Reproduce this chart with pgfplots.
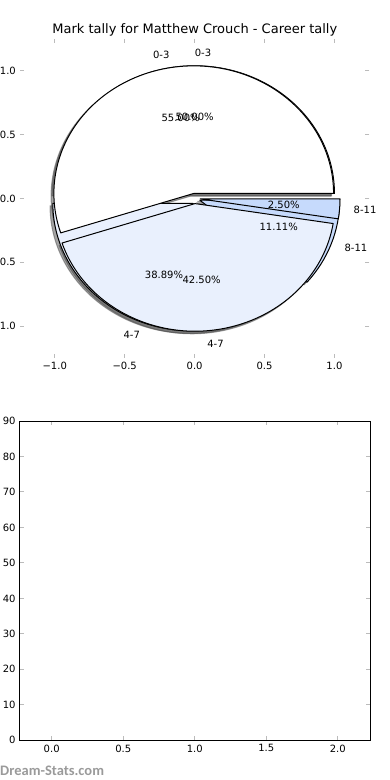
\documentclass[border=0pt]{standalone}
\usepackage{pgfplots}
\pgfplotsset{compat=1.18}
\usepackage{fontspec}
\setmainfont{DejaVu Sans}
\newfontfamily\wmfont{Carlito}
\definecolor{cA}{HTML}{FFFFFF}
\definecolor{cB}{HTML}{E9F0FD}
\definecolor{cC}{HTML}{C6DAFC}
\definecolor{tickgray}{HTML}{BBBBBB}
\definecolor{wmgray}{HTML}{9A9A9A}

% Data: mark tally counts per band
% Pie A: 0-3, 4-7, 8-11
\newcommand\Aone{9}\newcommand\Atwo{7}\newcommand\Athree{2}
% Pie B: 0-3, 4-7, 8-11
\newcommand\Bone{22}\newcommand\Btwo{17}\newcommand\Bthree{1}

\tikzset{
  shad/.style={fill=black!70, draw=black!70, fill opacity=0.5, draw opacity=0.5, line width=1pt},
  wdg/.style={fill=#1, draw=black, line width=1pt, line join=round},
  lbl/.style={font=\fontsize{10}{12}\selectfont, inner sep=0pt},
}

% wedge: start angle, end angle, style, shadow offset
\newcommand\pw[4]{%
  \pgfmathsetmacro\mA{(#1+#2)/2}%
  \pgfmathsetmacro\cx{0.04*cos(\mA)-#4}%
  \pgfmathsetmacro\cy{0.04*sin(\mA)-#4}%
  \pgfmathsetmacro\sx{\cx+cos(#1)}%
  \pgfmathsetmacro\sy{\cy+sin(#1)}%
  \path[#3] (axis cs:\cx,\cy) -- (axis cs:\sx,\sy) arc[start angle=#1, end angle=#2, radius=1] -- cycle;%
}

\begin{document}
\pgfmathsetmacro\Atot{\Aone+\Atwo+\Athree}%
\pgfmathsetmacro\Aa{360*\Aone/\Atot}%
\pgfmathsetmacro\Ab{360*(\Aone+\Atwo)/\Atot}%
\pgfmathsetmacro\Btot{\Bone+\Btwo+\Bthree}%
\pgfmathsetmacro\Ba{360*\Bone/\Btot}%
\pgfmathsetmacro\Bb{360*(\Bone+\Btwo)/\Btot}%
\begin{tikzpicture}
\useasboundingbox (0,0) rectangle (390pt,780pt);

\pgfplotsset{
  mystyle/.style={
    scale only axis,
    anchor=south west,
    tick align=inside,
    major tick length=4pt,
    every tick/.style={tickgray, line width=1pt},
    tick label style={font=\fontsize{10}{12}\selectfont},
    xticklabel style={anchor=north, inner sep=0pt, yshift=-3.6pt},
    yticklabel style={anchor=east, inner sep=0pt, xshift=-3.8pt},
    clip=false,
  }
}

% Pie axes
\begin{axis}[mystyle,
  at={(19.8pt,422pt)}, width=349.6pt, height=319pt,
  xmin=-1.25, xmax=1.25, ymin=-1.25, ymax=1.25,
  axis line style={draw=none},
  xtick={-1,-0.5,0,0.5,1}, xticklabels={−1.0,−0.5,0.0,0.5,1.0},
  ytick={-1,-0.5,0,0.5,1}, yticklabels={−1.0,−0.5,0.0,0.5,1.0},
]
\pgfplotsextra{%
  % shadows
  \pw{0}{\Aa}{shad}{0.02}\pw{\Aa}{\Ab}{shad}{0.02}\pw{\Ab}{360}{shad}{0.02}%
  \pw{0}{\Ba}{shad}{0.02}\pw{\Ba}{\Bb}{shad}{0.02}\pw{\Bb}{360}{shad}{0.02}%
  % wedges
  \pw{0}{\Aa}{wdg=cA}{0}\pw{\Aa}{\Ab}{wdg=cB}{0}\pw{\Ab}{360}{wdg=cC}{0}%
  \pw{0}{\Ba}{wdg=cA}{0}\pw{\Ba}{\Bb}{wdg=cB}{0}\pw{\Bb}{360}{wdg=cC}{0}%
}
% labels pie A
\node[lbl, anchor=west] at (axis cs:0,1.14) {0-3};
\node[lbl] at (axis cs:0,0.64) {50.00\%};
\node[lbl, anchor=east] at (axis cs:-0.3899,-1.0712) {4-7};
\node[lbl] at (axis cs:-0.2189,-0.6014) {38.89\%};
\node[lbl, anchor=west] at (axis cs:1.0712,-0.3899) {8-11};
\node[lbl] at (axis cs:0.6014,-0.2189) {11.11\%};
% labels pie B
\node[lbl, anchor=east] at (axis cs:-0.1783,1.1260) {0-3};
\node[lbl] at (axis cs:-0.1001,0.6321) {55.00\%};
\node[lbl, anchor=west] at (axis cs:0.0894,-1.1365) {4-7};
\node[lbl] at (axis cs:0.0502,-0.6380) {42.50\%};
\node[lbl, anchor=west] at (axis cs:1.1365,-0.0894) {8-11};
\node[lbl] at (axis cs:0.6380,-0.0502) {2.50\%};
\end{axis}

% Empty bar axes
\begin{axis}[mystyle,
  at={(19.5pt,39.7pt)}, width=350.5pt, height=319.3pt,
  xmin=-0.225, xmax=2.225, ymin=0, ymax=90,
  axis line style={black, line width=1pt},
  xtick={0,0.5,1,1.5,2}, xticklabels={0.0,0.5,1.0,1.5,2.0},
  ytick={0,10,20,30,40,50,60,70,80,90},
  yticklabels={0,10,20,30,40,50,60,70,80,90},
  xticklabel style={yshift=-0.6pt},
]
\end{axis}

\node[anchor=base, font=\fontsize{13}{15}\selectfont, inner sep=0pt] at (194.8pt,746pt) {Mark tally for Matthew Crouch - Career tally};
\node[anchor=base west, font=\wmfont\bfseries\fontsize{14.5}{16}\selectfont, text=wmgray, inner sep=0pt] at (0pt,5pt) {Dream-Stats.com};
\end{tikzpicture}
\end{document}
